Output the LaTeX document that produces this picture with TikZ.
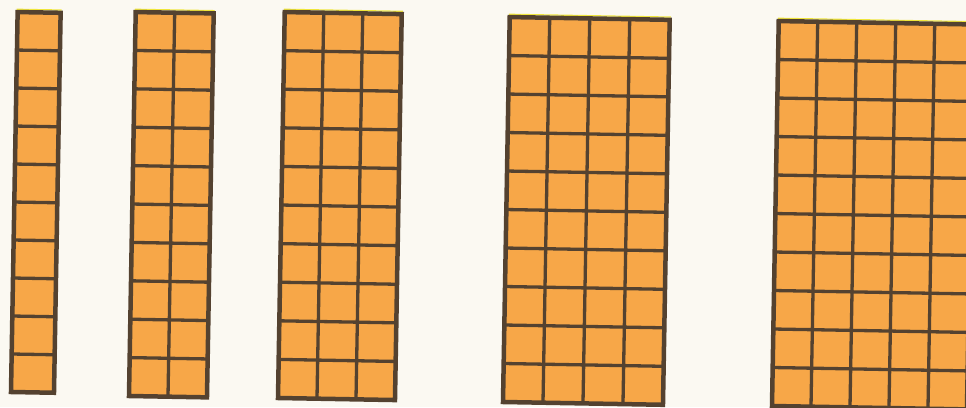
\documentclass[tikz,border=0pt]{standalone}
\definecolor{bgc}{RGB}{251,249,242}
\definecolor{cellc}{RGB}{247,167,72}
\definecolor{linec}{RGB}{84,66,48}
\definecolor{edgec}{RGB}{240,230,60}
\tikzset{
  cellfill/.style={fill=cellc},
  gridline/.style={draw=linec,line width=3.3pt},
  gridframe/.style={draw=linec,line width=4.5pt,line join=miter},
  topedge/.style={draw=edgec,line width=1.2pt}
}
\begin{document}
\begin{tikzpicture}[x=1pt,y=1pt]
\useasboundingbox (0,0) rectangle (966,407);
\clip (0,0) rectangle (966,407);
\fill[bgc] (0,0) rectangle (966,407);
\foreach \x/\y/\n/\w/\h in {11/15/1/43/380, 129/11/2/78/384, 278/9/3/117/386, 503/5/4/160/385, 772/1/5/195/385}{
  \begin{scope}[shift={(\x,\y)}, rotate=-1]
    \fill[cellfill] (0,0) rectangle (\w,\h);
    \foreach \i in {1,...,9}{
      \draw[gridline] (0,{\i*\h/10}) -- (\w,{\i*\h/10});
    }
    \foreach \j in {1,...,\n}{
      \ifnum\j<\n\relax
        \draw[gridline] ({\j*\w/\n},0) -- ({\j*\w/\n},\h);
      \fi
    }
    \draw[topedge] (-1,\h+2.8) -- (\w+1,\h+2.8);
    \draw[gridframe] (0,0) rectangle (\w,\h);
  \end{scope}
}
\end{tikzpicture}
\end{document}
